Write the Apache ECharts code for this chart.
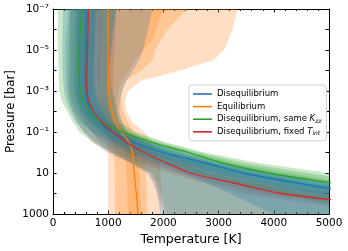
<!DOCTYPE html>
<html><head><meta charset="utf-8">
<script src="https://cdn.jsdelivr.net/npm/echarts@6/dist/echarts.min.js"></script>
<style>html,body{margin:0;padding:0;background:#fff}#c{width:348px;height:251px}</style>
</head><body><div id="c"></div>
<script>
// pressure levels [bar]
const pressure = [1e-7,3.162e-7,1e-6,3.162e-6,1e-5,3.162e-5,1e-4,3.162e-4,1e-3,3.162e-3,1e-2,3.162e-2,0.1,0.3162,1,3.162,10,31.62,100,316.2,1000];

// median temperature profiles [K]
const tDiseq     = [600,598,595,592,590,587,585,585,590,620,690,830,1080,1450,2000,2750,3450,4450,5600,6800,8000];
const tEq        = [1000,1000,1000,1000,1000,1000,1000,1000,1010,1030,1060,1120,1230,1380,1440,1455,1470,1490,1510,1525,1540];
const tSameKzz   = [530,510,495,482,475,470,470,478,495,550,650,840,1250,1780,2450,3050,3900,5080,6300,7500,8700];
const tFixedTint = [640,638,635,630,625,620,615,612,615,650,740,880,1090,1330,1650,2050,2490,3300,4150,5700,7500];

// credible envelopes (inner, middle, outer)
const diseqLo1 = [450,448,445,443,440,438,436,436,440,470,540,660,870,1180,1650,2300,2950,3800,4700,5600,6500];
const diseqHi1 = [780,775,770,765,760,755,750,750,755,790,870,1000,1180,1600,2150,2850,3650,4700,5900,7100,8300];
const diseqLo2 = [320,318,315,312,310,308,305,305,310,350,420,530,700,960,1350,1850,2350,2800,3200,3600,4000];
const diseqHi2 = [1150,1120,1100,1080,1060,1030,1000,980,970,990,1060,1120,1250,1700,2250,2950,3800,4950,6200,7400,8600];
const diseqLo3 = [180,178,175,172,170,172,175,185,200,240,310,410,560,780,1050,1400,1700,1820,1880,1920,1950];
const diseqHi3 = [1800,1760,1720,1680,1630,1560,1450,1330,1250,1210,1200,1250,1350,1800,2350,3100,4000,5200,6400,7600,8800];

const eqLo1 = [900,900,900,900,900,900,900,900,910,930,960,1010,1100,1230,1300,1320,1330,1340,1350,1355,1360];
const eqHi1 = [1990,1930,1870,1800,1640,1480,1380,1250,1180,1160,1180,1240,1340,1480,1530,1550,1560,1570,1580,1590,1600];
const eqLo2 = [800,800,800,800,800,800,800,810,850,870,900,940,1000,1080,1110,1115,1120,1120,1125,1125,1125];
const eqHi2 = [2430,2250,2080,1950,1850,1810,1600,1320,1250,1240,1270,1350,1460,1600,1650,1670,1680,1690,1700,1700,1700];
const eqLo3 = [700,700,700,700,700,700,710,730,750,780,830,880,940,980,1000,1000,1000,1000,1000,1000,1000];
const eqHi3 = [3340,3300,3250,3180,3100,2900,2300,1600,1360,1310,1330,1430,1650,1800,1880,1930,1950,1960,1960,1960,1960];

const kzzLo1 = [420,400,385,372,365,360,360,368,385,430,510,660,980,1400,1950,2450,3200,4200,5200,6200,7200];
const kzzHi1 = [640,620,605,592,585,580,580,590,610,680,800,960,1330,1870,2550,3250,4250,5400,6700,8000,9300];
const kzzLo2 = [280,265,250,240,235,232,232,238,250,290,360,480,730,1080,1500,1950,2550,3300,4200,5000,5800];
const kzzHi2 = [800,775,755,740,730,725,725,735,760,840,990,1060,1400,1950,2650,3450,4600,5800,7200,8600,10000];
const kzzLo3 = [90,90,90,90,92,95,100,105,115,160,260,360,480,720,1050,1450,1800,1900,1950,2000,2050];
const kzzHi3 = [1150,1110,1080,1060,1040,1030,1030,1040,1070,1120,1150,1200,1500,2050,2750,3700,5000,6500,8000,9500,11000];

const fixLo1 = [530,528,525,520,515,510,505,502,505,535,610,720,880,1080,1350,1700,2250,2950,3750,5100,6800];
const fixHi1 = [760,757,754,748,742,736,730,726,730,770,870,990,1160,1450,1800,2300,2800,3700,4600,6100,7800];
const fixLo2 = [420,418,415,410,405,400,395,392,395,420,480,570,700,860,1150,1550,2100,2750,3400,4700,6300];
const fixHi2 = [900,896,892,886,880,873,866,862,866,920,1000,1080,1220,1550,1950,2550,3150,4100,5100,6500,8000];
const fixLo3 = [300,298,295,290,285,280,275,272,275,300,360,440,560,720,980,1400,1750,1850,1900,1950,2000];
const fixHi3 = [1150,1140,1130,1120,1110,1100,1090,1085,1090,1120,1150,1200,1300,1650,2100,2800,3500,4500,5700,7000,8500];

const seriesNames = ['Disequilibrium','Equilibrium','Disequilibrium, same Kzz','Disequilibrium, fixed Tint'];
const legendLabels = ['Disequilibrium','Equilibrium','Disequilibrium, same {i|K}{s|zz}','Disequilibrium, fixed {i|T}{s|int}'];
const colors = ['#1f77b4','#ff7f0e','#2ca02c','#d62728'];
const xTicks = [0,1000,2000,3000,4000,5000];
const yLabelExps = [-7,-5,-3,-1,1,3];
const yLabelTexts = ['10⁻⁷','10⁻⁵','10⁻³','10⁻¹','10','1000'];

function band(lo, hi, color, op) {
  return {
    type: 'custom', silent: true, z: 1, animation: false,
    data: [[1000, 1]],
    renderItem: function (params, api) {
      const pts = [];
      for (let i = 0; i < pressure.length; i++) pts.push(api.coord([lo[i], pressure[i]]));
      for (let i = pressure.length - 1; i >= 0; i--) pts.push(api.coord([hi[i], pressure[i]]));
      const cs = params.coordSys;
      return {
        type: 'polygon', shape: { points: pts },
        style: { fill: color, opacity: op },
        clipPath: { type: 'rect', shape: { x: cs.x, y: cs.y, width: cs.width, height: cs.height } }
      };
    }
  };
}
function line(name, t, color) {
  return {
    name: name, type: 'line', z: 5, symbol: 'none', smooth: 0.3, animation: false,
    clip: true,
    data: pressure.map((p, i) => [t[i], p]),
    lineStyle: { color: color, width: 1.3 }, itemStyle: { color: color }
  };
}
const op = 0.25;
const series = [
  band(eqLo3, eqHi3, colors[1], op), band(eqLo2, eqHi2, colors[1], op), band(eqLo1, eqHi1, colors[1], op),
  band(fixLo3, fixHi3, colors[3], 0.2), band(fixLo2, fixHi2, colors[3], 0.2), band(fixLo1, fixHi1, colors[3], 0.2),
  band(kzzLo3, kzzHi3, colors[2], op), band(kzzLo2, kzzHi2, colors[2], op), band(kzzLo1, kzzHi1, colors[2], op),
  band(diseqLo3, diseqHi3, colors[0], op), band(diseqLo2, diseqHi2, colors[0], op), band(diseqLo1, diseqHi1, colors[0], op),
  line(seriesNames[0], tDiseq, colors[0]),
  line(seriesNames[1], tEq, colors[1]),
  line(seriesNames[2], tSameKzz, colors[2]),
  line(seriesNames[3], tFixedTint, colors[3])
];

const font = 'DejaVu Sans';
const axisCommon = {
  axisLine: { show: true, onZero: false, lineStyle: { color: '#000', width: 1 } },
  axisTick: { show: true, inside: true, length: 3.5, lineStyle: { color: '#000' } },
  splitLine: { show: false }
};
const chart = echarts.init(document.getElementById('c'), null, { renderer: 'canvas' });
chart.setOption({
  animation: false,
  textStyle: { fontFamily: font },
  grid: { left: 53, right: 19, top: 9, bottom: 37, containLabel: false, outerBoundsMode: 'none' },
  legend: {
    data: seriesNames.map(n => ({ name: n, icon: 'rect' })), orient: 'vertical', left: 189, top: 85,
    padding: [4, 5, 4, 4], itemGap: 2.6, itemWidth: 19, itemHeight: 1.6,
    backgroundColor: 'rgba(255,255,255,0.85)', borderColor: '#d0d0d0', borderWidth: 1, borderRadius: 3,
    formatter: name => legendLabels[seriesNames.indexOf(name)],
    textStyle: { fontFamily: font, fontSize: 8.5, lineHeight: 10, color: '#000',
      rich: { i: { fontFamily: font, fontSize: 8.5, fontStyle: 'italic', color: '#000' },
              s: { fontFamily: font, fontSize: 6, fontStyle: 'italic', color: '#000', verticalAlign: 'bottom', padding: [4, 0, 0, 0] } } }
  },
  xAxis: [
    Object.assign({
      type: 'value', min: xTicks[0], max: xTicks[xTicks.length - 1], interval: 1000, position: 'bottom',
      name: 'Temperature [K]', nameLocation: 'middle', nameGap: 19, nameMoveOverlap: false,
      nameTextStyle: { fontFamily: font, fontSize: 12.5, color: '#000' },
      axisLabel: { fontFamily: font, fontSize: 10.5, color: '#000', margin: 4, formatter: v => String(v) },
      minorTick: { show: true, splitNumber: 5, length: 2, lineStyle: { color: '#000' } }
    }, axisCommon),
    Object.assign({
      type: 'value', min: xTicks[0], max: xTicks[xTicks.length - 1], interval: 1000, position: 'top',
      axisLabel: { show: false },
      minorTick: { show: true, splitNumber: 5, length: 2, lineStyle: { color: '#000' } }
    }, axisCommon)
  ],
  yAxis: [
    Object.assign({
      type: 'log', logBase: 10, min: 1e-7, max: 1000, inverse: true, position: 'left', interval: 1,
      name: 'Pressure [bar]', nameLocation: 'middle', nameGap: 36, nameRotate: 90, nameMoveOverlap: false,
      nameTextStyle: { fontFamily: font, fontSize: 11.8, color: '#000' },
      axisLabel: { fontFamily: font, fontSize: 10.5, color: '#000', margin: 4, showMinLabel: true, showMaxLabel: true,
        formatter: v => { const e = Math.round(Math.log10(v)); const k = yLabelExps.indexOf(e); return k >= 0 ? yLabelTexts[k] : ''; } }
    }, axisCommon),
    Object.assign({
      type: 'log', logBase: 10, min: 1e-7, max: 1000, inverse: true, position: 'right', interval: 1,
      axisLabel: { show: false }
    }, axisCommon)
  ],
  series: series
});
</script></body></html>
